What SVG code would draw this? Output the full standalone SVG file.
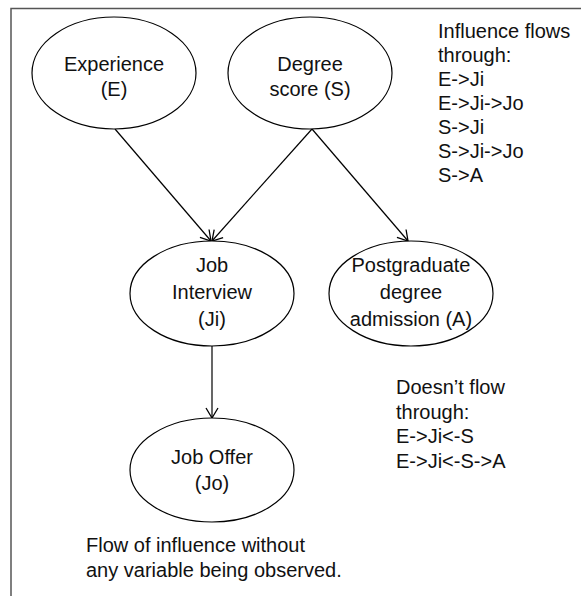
<svg xmlns="http://www.w3.org/2000/svg" width="581" height="596" viewBox="0 0 581 596">
<defs>
<style>
.n{fill:#fff;stroke:#000;stroke-width:1.2}
.t{font-family:"Liberation Sans",Arial,sans-serif;font-size:20px;fill:#111}
.c{text-anchor:middle}
.e{fill:none;stroke:#000;stroke-width:1.2}
</style>
<marker id="ah" markerUnits="userSpaceOnUse" markerWidth="14" markerHeight="14" viewBox="-12 -7 14 14" refX="0" refY="0" orient="auto">
<path d="M-10,-6 L0,0 L-10,6" fill="none" stroke="#000" stroke-width="1.3"/>
</marker>
</defs>
<rect width="581" height="596" fill="#fff"/>
<path d="M11,596 V8.5 H581" fill="none" stroke="#555" stroke-width="1.5"/>
<g id="connectors">
<line class="e" x1="115" y1="129" x2="211" y2="241" marker-end="url(#ah)"/>
<line class="e" x1="312" y1="129" x2="212" y2="241" marker-end="url(#ah)"/>
<line class="e" x1="312" y1="129" x2="408" y2="241" marker-end="url(#ah)"/>
<line class="e" x1="212" y1="346" x2="212" y2="418" marker-end="url(#ah)"/>
</g>
<g id="E">
<ellipse class="n" cx="114" cy="73" rx="82" ry="56"/>
<text class="t c" x="114" y="71">Experience</text>
<text class="t c" x="114" y="96">(E)</text>
</g>
<g id="S">
<ellipse class="n" cx="310" cy="73" rx="82" ry="56"/>
<text class="t c" x="310" y="71">Degree</text>
<text class="t c" x="310" y="96">score (S)</text>
</g>
<g id="Ji">
<ellipse class="n" cx="212" cy="293.5" rx="82" ry="52.5"/>
<text class="t c" x="212" y="272">Job</text>
<text class="t c" x="212" y="299">Interview</text>
<text class="t c" x="212" y="326">(Ji)</text>
</g>
<g id="A">
<ellipse class="n" cx="411" cy="293.5" rx="82" ry="52.5"/>
<text class="t c" x="411" y="272">Postgraduate</text>
<text class="t c" x="411" y="299">degree</text>
<text class="t c" x="411" y="326">admission (A)</text>
</g>
<g id="Jo">
<ellipse class="n" cx="212" cy="470" rx="82" ry="52"/>
<text class="t c" x="212" y="464">Job Offer</text>
<text class="t c" x="212" y="490">(Jo)</text>
</g>
<g id="flows">
<text class="t" x="438" y="38">Influence flows</text>
<text class="t" x="438" y="62">through:</text>
<text class="t" x="438" y="86">E-&gt;Ji</text>
<text class="t" x="438" y="110">E-&gt;Ji-&gt;Jo</text>
<text class="t" x="438" y="134">S-&gt;Ji</text>
<text class="t" x="438" y="158">S-&gt;Ji-&gt;Jo</text>
<text class="t" x="438" y="182">S-&gt;A</text>
</g>
<g id="noflow">
<text class="t" x="396" y="394">Doesn’t flow</text>
<text class="t" x="396" y="418.5">through:</text>
<text class="t" x="396" y="443">E-&gt;Ji&lt;-S</text>
<text class="t" x="396" y="467.5">E-&gt;Ji&lt;-S-&gt;A</text>
</g>
<g id="caption">
<text class="t" x="86" y="552">Flow of influence without</text>
<text class="t" x="86" y="577">any variable being observed.</text>
</g>
</svg>
